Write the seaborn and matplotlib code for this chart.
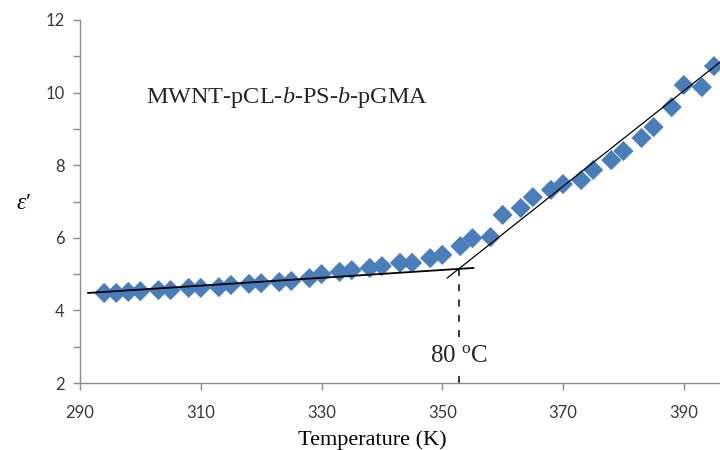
import numpy as np
import pandas as pd
import matplotlib
matplotlib.use("Agg")
import matplotlib.pyplot as plt
import seaborn as sns

# ---- data ----
temperature_K = [294, 296, 298, 300, 303, 305, 308, 310, 313, 315, 318, 320, 323, 325,
                 328, 330, 333, 335, 338, 340, 343, 345, 348, 350, 353, 355, 358, 360,
                 363, 365, 368, 370, 373, 375, 378, 380, 383, 385, 388, 390, 393, 395]
epsilon = [4.48, 4.48, 4.51, 4.53, 4.56, 4.56, 4.62, 4.62, 4.64, 4.70, 4.73, 4.75, 4.78, 4.81,
           4.89, 5.00, 5.06, 5.11, 5.17, 5.22, 5.31, 5.31, 5.44, 5.53, 5.77, 5.99, 6.02, 6.63,
           6.82, 7.12, 7.32, 7.48, 7.59, 7.87, 8.14, 8.39, 8.75, 9.05, 9.60, 10.21, 10.15, 10.73]

# linear fits (slope, intercept) of the two regimes
fit_low = [0.0108, 1.334]
fit_high = [0.1316, -41.275]
fit_low_range = [291.3, 355.2]
fit_high_range = [350.8, 396.0]

x_ticks = [290, 310, 330, 350, 370, 390]
y_ticks = [2, 4, 6, 8, 10, 12]
title_text = "MWNT-pCL-$b$-PS-$b$-pGMA"
transition_label = r"80 $^{\mathrm{o}}$C"

# ---- style ----
sns.set_style("white")
plt.rcParams["font.family"] = ["Lato", "DejaVu Sans"]
plt.rcParams["mathtext.fontset"] = "custom"
plt.rcParams["mathtext.rm"] = "Liberation Serif"
plt.rcParams["mathtext.it"] = "Liberation Serif:italic"

fig = plt.figure(figsize=(7.2, 4.5), dpi=100)
ax = fig.add_axes([80 / 720, 67 / 450, 640 / 720, 363 / 450])

df = pd.DataFrame({"T": temperature_K, "eps": epsilon})

# fit lines
tl = np.array(fit_low_range)
th = np.array(fit_high_range)
low_df = pd.DataFrame({"T": tl, "eps": fit_low[0] * tl + fit_low[1]})
high_df = pd.DataFrame({"T": th, "eps": fit_high[0] * th + fit_high[1]})
sns.lineplot(data=low_df, x="T", y="eps", ax=ax, color="black", linewidth=1.3, zorder=3)
sns.lineplot(data=high_df, x="T", y="eps", ax=ax, color="black", linewidth=0.9, zorder=3)

sns.scatterplot(data=df, x="T", y="eps", ax=ax, marker="D", s=105,
                color="#4A7EBB", edgecolor="none", linewidth=0, zorder=2)

# intersection of the fits -> transition
Tc = (fit_low[1] - fit_high[1]) / (fit_high[0] - fit_low[0])
yc = fit_low[0] * Tc + fit_low[1]
ax.plot([Tc, Tc], [yc, 1.85], color="black", linewidth=1.1,
        linestyle=(0, (4.5, 5.5)), zorder=3, clip_on=False)
ax.text(Tc, 2.74, transition_label, ha="center", va="center", fontsize=18,
        fontfamily="Liberation Serif", zorder=4,
        bbox=dict(facecolor="white", edgecolor="none", pad=0.3))

ax.set_xlim(290, 396)
ax.set_ylim(2, 12)
ax.set_xticks(x_ticks)
ax.set_yticks(y_ticks)
ax.set_yticks(np.arange(3, 12, 2), minor=True)

for s in ["top", "right"]:
    ax.spines[s].set_visible(False)
for s in ["left", "bottom"]:
    ax.spines[s].set_color("#8c8c8c")
    ax.spines[s].set_linewidth(1.0)

ax.tick_params(axis="both", which="both", direction="out", length=5, width=1,
               color="#8c8c8c", labelcolor="#3a3a3a", labelsize=12)
ax.tick_params(axis="y", which="both", left=True, pad=6)
ax.tick_params(axis="x", which="both", bottom=True, pad=11)

ax.set_xlabel("Temperature (K)", fontfamily="Liberation Serif", fontsize=16,
              color="black", va="top")
ax.xaxis.set_label_coords((372 - 80) / 640, -(430 - 383) / 363)
ax.set_ylabel(r"$\varepsilon$′", fontsize=17, rotation=0, color="black",
              fontfamily="Liberation Serif")
ax.yaxis.set_label_coords(-(80 - 24) / 640, (383 - 214) / 363)

ax.text((287 - 80) / 640, (383 - 97) / 363, title_text, transform=ax.transAxes,
        ha="center", va="center", fontsize=17.5, fontfamily="Liberation Serif")

fig.savefig("out.png", dpi=100)
